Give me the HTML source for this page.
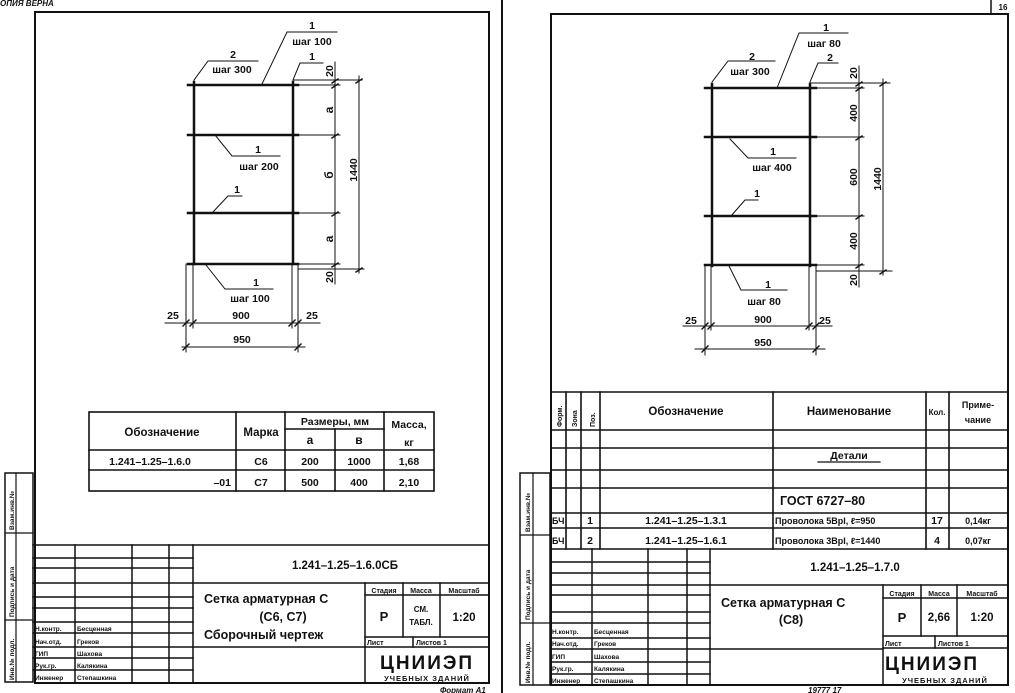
<!DOCTYPE html>
<html><head><meta charset="utf-8"><style>
html,body{margin:0;padding:0;background:#fff;}
svg{display:block;}
text{font-family:"Liberation Sans","DejaVu Sans",sans-serif;fill:#111;font-weight:bold;}
</style></head><body>
<svg width="1015" height="693" viewBox="0 0 1015 693" xmlns="http://www.w3.org/2000/svg">
<g stroke="#111" fill="none" stroke-linecap="square">
<rect x="35" y="12" width="454" height="671" stroke-width="2"/>
<line x1="502" y1="0" x2="502" y2="693" stroke-width="2"/>
<rect x="5" y="473" width="28" height="209" stroke-width="1.5"/>
<line x1="16" y1="473" x2="16" y2="682" stroke-width="1.2"/>
<line x1="5" y1="533" x2="33" y2="533" stroke-width="1.2"/>
<line x1="5" y1="620" x2="33" y2="620" stroke-width="1.2"/>

<g stroke-width="2.5">
<line x1="194" y1="82" x2="194" y2="264"/>
<line x1="293" y1="82" x2="293" y2="264"/>
<line x1="188" y1="85" x2="298" y2="85"/>
<line x1="188" y1="135" x2="298" y2="135"/>
<line x1="188" y1="213" x2="298" y2="213"/>
<line x1="188" y1="264" x2="298" y2="264"/>
</g>
<g stroke-width="1">
<line x1="186" y1="264" x2="186" y2="352"/>
<line x1="298" y1="264" x2="298" y2="352"/>
<line x1="193" y1="264" x2="193" y2="328"/>
<line x1="292" y1="264" x2="292" y2="328"/>
<polyline points="194,80 208,61 258,61"/>
<polyline points="262,84 287,32 337,32"/>
<polyline points="293,80 300,63 323,63"/>
<polyline points="215,135 232,156 280,156"/>
<polyline points="212,213 228,196 242,196"/>
<polyline points="206,265 225,289 273,289"/>
<line x1="293" y1="80" x2="362" y2="80"/>
<line x1="298" y1="85" x2="340" y2="85"/>
<line x1="298" y1="135" x2="340" y2="135"/>
<line x1="298" y1="213" x2="340" y2="213"/>
<line x1="298" y1="264" x2="340" y2="264"/>
<line x1="298" y1="269" x2="364" y2="269"/>
<line x1="335" y1="62" x2="335" y2="284"/>
<line x1="359" y1="76" x2="359" y2="273"/>
<line x1="165" y1="323" x2="320" y2="323"/>
<line x1="182" y1="347" x2="305" y2="347"/>
</g>
<g stroke-width="1.4">
<path d="M332,83 l6,-4 M332,88 l6,-4 M332,138 l6,-4 M332,216 l6,-4 M332,267 l6,-4 M356,83 l6,-4 M356,272 l6,-4 M183,326 l6,-6 M190,326 l6,-6 M289,326 l6,-6 M295,326 l6,-6 M183,350 l6,-6 M295,350 l6,-6"/>
</g>
<g stroke-width="1.6">
<rect x="89" y="412" width="345" height="79"/>
<line x1="236" y1="412" x2="236" y2="491"/>
<line x1="285" y1="412" x2="285" y2="491"/>
<line x1="335" y1="429" x2="335" y2="491"/>
<line x1="384" y1="412" x2="384" y2="491"/>
<line x1="285" y1="429" x2="384" y2="429"/>
<line x1="89" y1="450" x2="434" y2="450"/>
<line x1="89" y1="470" x2="434" y2="470"/>
</g>
<g stroke-width="1.5">
<line x1="33" y1="545" x2="489" y2="545"/>
<line x1="75" y1="545" x2="75" y2="683"/>
<line x1="132" y1="545" x2="132" y2="683"/>
<line x1="169" y1="545" x2="169" y2="683"/>
<line x1="193" y1="545" x2="193" y2="683"/>
<line x1="33" y1="558" x2="193" y2="558"/>
<line x1="33" y1="568" x2="193" y2="568"/>
<line x1="33" y1="583" x2="489" y2="583"/>
<line x1="33" y1="597" x2="193" y2="597"/>
<line x1="33" y1="608" x2="193" y2="608"/>
<line x1="33" y1="622" x2="193" y2="622"/>
<line x1="33" y1="633" x2="193" y2="633"/>
<line x1="33" y1="647" x2="365" y2="647"/>
<line x1="33" y1="658" x2="193" y2="658"/>
<line x1="33" y1="670" x2="193" y2="670"/>
<line x1="365" y1="583" x2="365" y2="683"/>
<line x1="403" y1="583" x2="403" y2="637"/>
<line x1="440" y1="583" x2="440" y2="637"/>
<line x1="365" y1="595" x2="489" y2="595"/>
<line x1="365" y1="637" x2="489" y2="637"/>
<line x1="365" y1="647" x2="489" y2="647"/>
<line x1="413" y1="637" x2="413" y2="647"/>
</g>

<rect x="551" y="14" width="457" height="671" stroke-width="2"/>
<line x1="991" y1="0" x2="991" y2="14" stroke-width="1.5"/>
<rect x="520" y="473" width="30" height="212" stroke-width="1.5"/>
<line x1="533" y1="473" x2="533" y2="685" stroke-width="1.2"/>
<line x1="520" y1="535" x2="550" y2="535" stroke-width="1.2"/>
<line x1="520" y1="623" x2="550" y2="623" stroke-width="1.2"/>

<g stroke-width="2.5">
<line x1="712" y1="84" x2="712" y2="266"/>
<line x1="810" y1="84" x2="810" y2="266"/>
<line x1="705" y1="88" x2="816" y2="88"/>
<line x1="705" y1="137" x2="816" y2="137"/>
<line x1="705" y1="216" x2="816" y2="216"/>
<line x1="705" y1="265" x2="816" y2="265"/>
</g>
<g stroke-width="1">
<line x1="705" y1="265" x2="705" y2="355"/>
<line x1="816" y1="265" x2="816" y2="355"/>
<line x1="711" y1="265" x2="711" y2="330"/>
<line x1="809" y1="265" x2="809" y2="330"/>
<polyline points="712,82 728,61 775,61"/>
<polyline points="777,88 799,33 848,33"/>
<polyline points="810,82 818,63 838,63"/>
<polyline points="730,139 748,158 796,158"/>
<polyline points="731,216 745,200 758,200"/>
<polyline points="729,266 741,290 787,290"/>
<line x1="810" y1="83" x2="890" y2="83"/>
<line x1="816" y1="88" x2="864" y2="88"/>
<line x1="816" y1="137" x2="864" y2="137"/>
<line x1="816" y1="216" x2="864" y2="216"/>
<line x1="816" y1="265" x2="864" y2="265"/>
<line x1="816" y1="271" x2="892" y2="271"/>
<line x1="859" y1="66" x2="859" y2="287"/>
<line x1="883" y1="79" x2="883" y2="275"/>
<line x1="683" y1="326" x2="832" y2="326"/>
<line x1="695" y1="349" x2="825" y2="349"/>
</g>
<g stroke-width="1.4">
<path d="M856,86 l6,-4 M856,91 l6,-4 M856,140 l6,-4 M856,219 l6,-4 M856,268 l6,-4 M880,86 l6,-4 M880,274 l6,-4 M702,329 l6,-6 M708,329 l6,-6 M806,329 l6,-6 M813,329 l6,-6 M702,352 l6,-6 M813,352 l6,-6"/>
</g>
<g stroke-width="1.6">
<line x1="551" y1="392" x2="1008" y2="392"/>
<line x1="566" y1="392" x2="566" y2="549"/>
<line x1="581" y1="392" x2="581" y2="549"/>
<line x1="600" y1="392" x2="600" y2="549"/>
<line x1="773" y1="392" x2="773" y2="549"/>
<line x1="926" y1="392" x2="926" y2="549"/>
<line x1="949" y1="392" x2="949" y2="549"/>
<line x1="551" y1="430" x2="1008" y2="430"/>
<line x1="551" y1="448" x2="1008" y2="448"/>
<line x1="551" y1="470" x2="1008" y2="470"/>
<line x1="551" y1="488" x2="1008" y2="488"/>
<line x1="551" y1="513" x2="1008" y2="513"/>
<line x1="551" y1="528" x2="1008" y2="528"/>
<line x1="551" y1="549" x2="1008" y2="549"/>
<line x1="818" y1="462" x2="880" y2="462" stroke-width="1.2"/>
</g>
<g stroke-width="1.5">
<line x1="592" y1="549" x2="592" y2="685"/>
<line x1="648" y1="549" x2="648" y2="685"/>
<line x1="687" y1="549" x2="687" y2="685"/>
<line x1="710" y1="549" x2="710" y2="685"/>
<line x1="551" y1="562" x2="710" y2="562"/>
<line x1="551" y1="573" x2="710" y2="573"/>
<line x1="551" y1="585" x2="1008" y2="585"/>
<line x1="551" y1="595" x2="710" y2="595"/>
<line x1="551" y1="612" x2="710" y2="612"/>
<line x1="551" y1="623" x2="710" y2="623"/>
<line x1="551" y1="638" x2="710" y2="638"/>
<line x1="551" y1="649" x2="883" y2="649"/>
<line x1="551" y1="662" x2="710" y2="662"/>
<line x1="551" y1="674" x2="710" y2="674"/>
<line x1="883" y1="585" x2="883" y2="685"/>
<line x1="921" y1="585" x2="921" y2="636"/>
<line x1="957" y1="585" x2="957" y2="636"/>
<line x1="883" y1="598" x2="1008" y2="598"/>
<line x1="883" y1="636" x2="1008" y2="636"/>
<line x1="883" y1="648" x2="1008" y2="648"/>
<line x1="935" y1="636" x2="935" y2="648"/>
</g>
</g>

<g font-size="10.5">
<text x="0" y="6" font-size="8" font-style="italic">ОПИЯ  ВЕРНА</text>
<text x="233" y="58" text-anchor="middle">2</text>
<text x="232" y="73" text-anchor="middle">шаг 300</text>
<text x="312" y="29" text-anchor="middle">1</text>
<text x="312" y="45" text-anchor="middle">шаг 100</text>
<text x="312" y="60" text-anchor="middle">1</text>
<text x="258" y="153" text-anchor="middle">1</text>
<text x="259" y="170" text-anchor="middle">шаг 200</text>
<text x="237" y="193" text-anchor="middle">1</text>
<text x="256" y="286" text-anchor="middle">1</text>
<text x="250" y="302" text-anchor="middle">шаг 100</text>
<text x="173" y="319" text-anchor="middle">25</text>
<text x="241" y="319" text-anchor="middle">900</text>
<text x="312" y="319" text-anchor="middle">25</text>
<text x="242" y="343" text-anchor="middle">950</text>
<text transform="translate(333,71) rotate(-90)" text-anchor="middle">20</text>
<text transform="translate(333,110) rotate(-90)" text-anchor="middle" font-size="12">а</text>
<text transform="translate(333,175) rotate(-90)" text-anchor="middle" font-size="12">б</text>
<text transform="translate(333,239) rotate(-90)" text-anchor="middle" font-size="12">а</text>
<text transform="translate(333,277) rotate(-90)" text-anchor="middle">20</text>
<text transform="translate(357,170) rotate(-90)" text-anchor="middle">1440</text>

<text x="162" y="436" text-anchor="middle" font-size="11.5">Обозначение</text>
<text x="261" y="436" text-anchor="middle" font-size="11.5">Марка</text>
<text x="335" y="425" text-anchor="middle">Размеры, мм</text>
<text x="310" y="444" text-anchor="middle" font-size="12">а</text>
<text x="359" y="444" text-anchor="middle" font-size="12">в</text>
<text x="409" y="428" text-anchor="middle">Масса,</text>
<text x="409" y="446" text-anchor="middle">кг</text>
<text x="150" y="465" text-anchor="middle">1.241–1.25–1.6.0</text>
<text x="261" y="465" text-anchor="middle">С6</text>
<text x="310" y="465" text-anchor="middle">200</text>
<text x="359" y="465" text-anchor="middle">1000</text>
<text x="409" y="465" text-anchor="middle">1,68</text>
<text x="231" y="486" text-anchor="end">–01</text>
<text x="261" y="486" text-anchor="middle">С7</text>
<text x="310" y="486" text-anchor="middle">500</text>
<text x="359" y="486" text-anchor="middle">400</text>
<text x="409" y="486" text-anchor="middle">2,10</text>

<text x="345" y="569" text-anchor="middle" font-size="11.5">1.241–1.25–1.6.0СБ</text>
<text x="204" y="603" font-size="12.5">Сетка арматурная С</text>
<text x="283" y="621" text-anchor="middle" font-size="12.5">(С6, С7)</text>
<text x="204" y="639" font-size="12.5">Сборочный чертеж</text>
<text x="384" y="593" text-anchor="middle" font-size="7">Стадия</text>
<text x="421" y="593" text-anchor="middle" font-size="7">Масса</text>
<text x="464" y="593" text-anchor="middle" font-size="7">Масштаб</text>
<text x="384" y="621" text-anchor="middle" font-size="13">Р</text>
<text x="421" y="612" text-anchor="middle" font-size="8">СМ.</text>
<text x="421" y="625" text-anchor="middle" font-size="8">ТАБЛ.</text>
<text x="464" y="621" text-anchor="middle" font-size="11.5">1:20</text>
<text x="367" y="645" font-size="7">Лист</text>
<text x="416" y="645" font-size="7">Листов 1</text>
<text x="427" y="669" text-anchor="middle" font-size="19" letter-spacing="2" font-weight="normal">ЦНИИЭП</text>
<text x="427" y="681" text-anchor="middle" font-size="7.5" letter-spacing="1">УЧЕБНЫХ ЗДАНИЙ</text>

<g font-size="6.5">
<text x="35" y="631">Н.контр.</text><text x="77" y="631">Бесценная</text>
<text x="35" y="644">Нач.отд.</text><text x="77" y="644">Греков</text>
<text x="35" y="656">ГИП</text><text x="77" y="656">Шахова</text>
<text x="35" y="668">Рук.гр.</text><text x="77" y="668">Калякина</text>
<text x="35" y="680">Инженер</text><text x="77" y="680">Степашкина</text>
<text transform="translate(14,680) rotate(-90)">Инв.№ подл.</text>
<text transform="translate(14,617) rotate(-90)">Подпись и дата</text>
<text transform="translate(14,530) rotate(-90)">Взам.инв.№</text>
</g>
<text x="440" y="693" font-size="8" font-style="italic">Формат А1</text>
</g>

<g font-size="10.5">
<text x="1003" y="10" text-anchor="middle" font-size="8">16</text>
<text x="752" y="60" text-anchor="middle">2</text>
<text x="750" y="75" text-anchor="middle">шаг 300</text>
<text x="826" y="31" text-anchor="middle">1</text>
<text x="824" y="47" text-anchor="middle">шаг 80</text>
<text x="830" y="61" text-anchor="middle">2</text>
<text x="773" y="155" text-anchor="middle">1</text>
<text x="772" y="171" text-anchor="middle">шаг 400</text>
<text x="757" y="197" text-anchor="middle">1</text>
<text x="768" y="288" text-anchor="middle">1</text>
<text x="764" y="305" text-anchor="middle">шаг 80</text>
<text x="691" y="324" text-anchor="middle">25</text>
<text x="763" y="323" text-anchor="middle">900</text>
<text x="825" y="324" text-anchor="middle">25</text>
<text x="763" y="346" text-anchor="middle">950</text>
<text transform="translate(857,73) rotate(-90)" text-anchor="middle">20</text>
<text transform="translate(857,113) rotate(-90)" text-anchor="middle">400</text>
<text transform="translate(857,177) rotate(-90)" text-anchor="middle">600</text>
<text transform="translate(857,241) rotate(-90)" text-anchor="middle">400</text>
<text transform="translate(857,280) rotate(-90)" text-anchor="middle">20</text>
<text transform="translate(881,179) rotate(-90)" text-anchor="middle">1440</text>

<g font-size="7">
<text transform="translate(562,427) rotate(-90)">Форм.</text>
<text transform="translate(577,427) rotate(-90)">Зона</text>
<text transform="translate(595,427) rotate(-90)">Поз.</text>
</g>
<text x="686" y="415" text-anchor="middle" font-size="11.5">Обозначение</text>
<text x="849" y="415" text-anchor="middle" font-size="11.5">Наименование</text>
<text x="937" y="415" text-anchor="middle" font-size="8">Кол.</text>
<text x="978" y="408" text-anchor="middle" font-size="9">Приме-</text>
<text x="978" y="423" text-anchor="middle" font-size="9">чание</text>
<text x="849" y="459" text-anchor="middle">Детали</text>
<text x="780" y="505" font-size="12.5">ГОСТ 6727–80</text>
<text x="552" y="524" font-size="9">БЧ</text><text x="590" y="524" text-anchor="middle">1</text>
<text x="686" y="524" text-anchor="middle">1.241–1.25–1.3.1</text>
<text x="775" y="524" font-size="9">Проволока 5ВрI, ℓ=950</text>
<text x="937" y="524" text-anchor="middle">17</text>
<text x="978" y="524" text-anchor="middle" font-size="9">0,14кг</text>
<text x="552" y="544" font-size="9">БЧ</text><text x="590" y="544" text-anchor="middle">2</text>
<text x="686" y="544" text-anchor="middle">1.241–1.25–1.6.1</text>
<text x="775" y="544" font-size="9">Проволока 3ВрI, ℓ=1440</text>
<text x="937" y="544" text-anchor="middle">4</text>
<text x="978" y="544" text-anchor="middle" font-size="9">0,07кг</text>

<text x="855" y="571" text-anchor="middle" font-size="11.5">1.241–1.25–1.7.0</text>
<text x="721" y="607" font-size="12.5">Сетка арматурная С</text>
<text x="791" y="624" text-anchor="middle" font-size="12.5">(С8)</text>
<text x="902" y="596" text-anchor="middle" font-size="7">Стадия</text>
<text x="939" y="596" text-anchor="middle" font-size="7">Масса</text>
<text x="982" y="596" text-anchor="middle" font-size="7">Масштаб</text>
<text x="902" y="622" text-anchor="middle" font-size="13">Р</text>
<text x="939" y="621" text-anchor="middle" font-size="11.5">2,66</text>
<text x="982" y="621" text-anchor="middle" font-size="11.5">1:20</text>
<text x="885" y="646" font-size="7">Лист</text>
<text x="938" y="646" font-size="7">Листов 1</text>
<text x="932" y="670" text-anchor="middle" font-size="19" letter-spacing="2" font-weight="normal">ЦНИИЭП</text>
<text x="945" y="683" text-anchor="middle" font-size="7.5" letter-spacing="1">УЧЕБНЫХ ЗДАНИЙ</text>
<g font-size="6.5">
<text x="552" y="634">Н.контр.</text><text x="594" y="634">Бесценная</text>
<text x="552" y="646">Нач.отд.</text><text x="594" y="646">Греков</text>
<text x="552" y="659">ГИП</text><text x="594" y="659">Шахова</text>
<text x="552" y="671">Рук.гр.</text><text x="594" y="671">Калякина</text>
<text x="552" y="683">Инженер</text><text x="594" y="683">Степашкина</text>
<text transform="translate(530,683) rotate(-90)">Инв.№ подл.</text>
<text transform="translate(530,620) rotate(-90)">Подпись и дата</text>
<text transform="translate(530,532) rotate(-90)">Взам.инв.№</text>
</g>
<text x="808" y="693" font-size="8" font-style="italic">19777   17</text>
</g>
</svg>
</body></html>
